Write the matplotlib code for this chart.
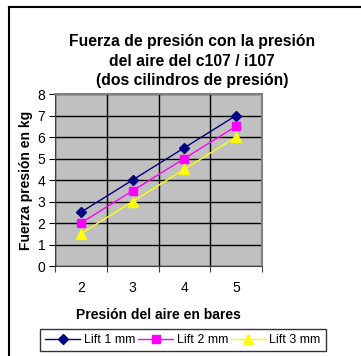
import numpy as np
import matplotlib.pyplot as plt
from matplotlib.lines import Line2D

plt.rcParams['font.family'] = ['Liberation Sans', 'DejaVu Sans']

# data
presion = ["2", "3", "4", "5"]
lift_1mm = [2.5, 4.0, 5.5, 7.0]
lift_2mm = [2.0, 3.5, 5.0, 6.5]
lift_3mm = [1.5, 3.0, 4.5, 6.0]
labels = ["Lift 1 mm", "Lift 2 mm", "Lift 3 mm"]

fig = plt.figure(figsize=(3.61, 3.56), dpi=100)

# outer chart border (left and top visible)
fig.add_artist(Line2D([9 / 361, 9 / 361], [0, 1 - 7 / 356], transform=fig.transFigure,
                      color="black", lw=1.5))
fig.add_artist(Line2D([9 / 361, 1], [1 - 7 / 356, 1 - 7 / 356], transform=fig.transFigure,
                      color="black", lw=1.5))

ax = fig.add_axes([55 / 361, 1 - 266 / 356, 207 / 361, 172 / 356])
ax.set_facecolor("#C0C0C0")

x = np.arange(len(presion))
ax.plot(x, lift_1mm, color="#000080", marker="D", markersize=5, lw=1, label=labels[0])
ax.plot(x, lift_2mm, color="#FF00FF", marker="s", markersize=6, lw=1, label=labels[1])
ax.plot(x, lift_3mm, color="#FFFF00", marker="^", markersize=7, lw=1, label=labels[2])

ax.set_xlim(-0.5, len(presion) - 0.5)
ax.set_ylim(0, 8)
ax.set_yticks(range(0, 9))
ax.set_xticks(np.arange(-0.5, len(presion), 1.0))
ax.set_xticklabels([])
ax.set_xticks(x, minor=True)
ax.set_xticklabels(presion, minor=True)
ax.tick_params(axis="x", which="minor", length=0, pad=11, labelsize=10)
ax.tick_params(axis="x", which="major", length=4, direction="out", color="#404040")
ax.tick_params(axis="y", length=4, direction="out", labelsize=10, pad=3)
ax.grid(True, which="major", color="black", lw=1)
ax.set_axisbelow(True)

for side in ["top", "right"]:
    ax.spines[side].set_color("#808080")
    ax.spines[side].set_linewidth(1.5)
ax.spines["left"].set_color("#404040")
ax.spines["bottom"].set_color("#404040")

ax.set_ylabel("Fuerza presión en kg", fontsize=10, fontweight="bold", labelpad=3)
ax.set_xlabel("Presión del aire en bares", fontsize=10, fontweight="bold", labelpad=9)

fig.text(192 / 361, 1 - 61 / 356,
         "Fuerza de presión con la presión\ndel aire del c107 / i107\n(dos cilindros de presión)",
         ha="center", va="center", fontsize=11.3, fontweight="bold", linespacing=1.35)

leg = ax.legend(loc="center", bbox_to_anchor=(183 / 361, 1 - 340 / 356),
                bbox_transform=fig.transFigure, ncol=3, fontsize=9, frameon=True,
                fancybox=False, edgecolor="black", handlelength=2.8, handletextpad=0.3,
                columnspacing=0.2, borderpad=0.4, borderaxespad=0)
leg.get_frame().set_linewidth(1)

fig.savefig("out.png", dpi=100)
